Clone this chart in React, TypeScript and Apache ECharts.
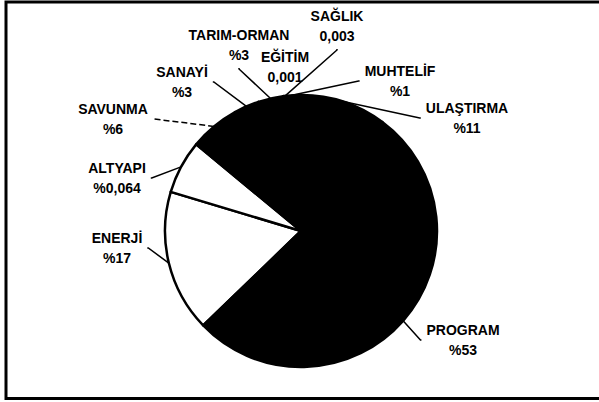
import React, { useEffect, useRef } from "react";
import * as echarts from "echarts";

// Data (clockwise from the lower-left edge of ENERJİ)
const categories = [
  "ENERJİ",
  "ALTYAPI",
  "SAVUNMA",
  "SANAYİ",
  "TARIM-ORMAN",
  "EĞİTİM",
  "SAĞLIK",
  "MUHTELİF",
  "ULAŞTIRMA",
  "PROGRAM",
];
const values = [17, 6.4, 6, 3, 3, 0.1, 0.3, 1, 11, 53];
const valueLabels = ["%17", "%0,064", "%6", "%3", "%3", "0,001", "0,003", "%1", "%11", "%53"];

// Styling / layout (kept separate from data)
const sliceColors = ["#ffffff", "#ffffff", "#000000", "#000000", "#000000", "#000000", "#000000", "#000000", "#000000", "#000000"];
const labelCenters: [number, number][] = [
  [117, 248],
  [117, 178],
  [113, 119],
  [182, 82],
  [239, 45],
  [285, 67],
  [337, 26],
  [400, 81],
  [467, 118],
  [463, 340],
];
const showLeader = [true, true, true, true, true, false, true, true, true, true];
const leaderType = ["solid", "solid", "dashed", "solid", "solid", "solid", "solid", "solid", "solid", "solid"];

export default function App() {
  const ref = useRef<HTMLDivElement>(null);
  useEffect(() => {
    if (!ref.current) return;
    const chart = echarts.init(ref.current, undefined, { renderer: "svg" });
    const data = categories.map((name, i) => ({
      name,
      value: values[i],
      itemStyle: { color: sliceColors[i] },
      labelLine: { show: showLeader[i], lineStyle: { type: leaderType[i] } },
      label: { formatter: `${name}\n${valueLabels[i]}` },
    }));
    chart.setOption({
      animation: false,
      backgroundColor: "#ffffff",
      graphic: [
        {
          type: "rect",
          shape: { x: 6, y: 2, width: 620, height: 396.5 },
          style: { fill: "none", stroke: "#000", lineWidth: 3 },
          silent: true,
        },
      ],
      series: [
        {
          type: "pie",
          center: [301, 231],
          radius: [0, 136],
          startAngle: 224,
          clockwise: true,
          avoidLabelOverlap: false,
          itemStyle: { borderColor: "#000", borderWidth: 2.5 },
          label: {
            show: true,
            position: "outside",
            color: "#000",
            fontFamily: "Liberation Sans, Arial, sans-serif",
            fontWeight: "bold",
            fontSize: 14,
            lineHeight: 20,
            align: "center",
            padding: [3, 5],
            backgroundColor: "rgba(255,255,255,0)",
          },
          labelLine: {
            show: true,
            length: 10,
            length2: 1,
            smooth: false,
            minTurnAngle: 0,
            lineStyle: { color: "#000", width: 1.5 },
          },
          labelLayout: (params: any) => {
            const c = labelCenters[params.dataIndex];
            return { x: c[0], y: c[1], align: "center", verticalAlign: "middle" };
          },
          emphasis: { disabled: true },
          data,
        },
      ],
    });
    return () => chart.dispose();
  }, []);
  return (
    <div
      ref={ref}
      style={{ position: "fixed", left: 0, top: 0, width: 599, height: 402, background: "#fff" }}
    />
  );
}
